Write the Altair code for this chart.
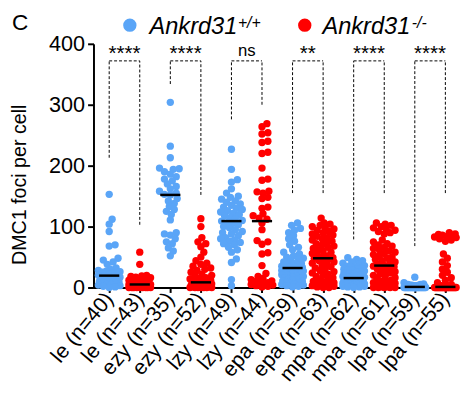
import math
import altair as alt
import pandas as pd

# ---- data ----
stages = ["le", "le", "ezy", "ezy", "lzy", "lzy", "epa", "epa", "mpa", "mpa", "lpa", "lpa"]
genotypes = ["wt", "ko"] * 6

le_wt = [153, 112, 104, 92, 70, 68, 48, 45, 42, 38, 32, 30, 28, 27, 26, 25, 24, 22, 21, 20,
         19, 18, 17, 16, 15, 14, 13, 12, 11, 10, 9, 8, 7, 6, 5, 4, 3, 2, 1, 0]
le_ko = [58, 38, 20, 19, 18, 17, 16, 15, 14, 13, 12, 11, 10, 9, 8, 7, 6, 6, 5, 5, 5, 5,
         4, 4, 3, 3, 3, 2, 2, 2, 1, 1, 1, 1, 0, 0, 0, 0, 0, 0, 0, 0, 0]
ezy_wt = [304, 232, 213, 196, 195, 194, 190, 186, 182, 178, 175, 170, 166, 162, 158, 155,
          153, 152, 146, 142, 138, 133, 128, 125, 120, 111, 90, 88, 86, 80, 75, 72, 65, 60, 52]
ezy_ko = [113, 100, 82, 75, 72, 67, 58, 50, 44, 40, 38, 35, 32, 30, 28, 25, 22, 20, 18, 16,
          15, 14, 12, 11, 10, 9, 8, 8, 7, 6, 6, 5, 5, 4, 4, 3, 3, 3, 2, 2, 2, 1, 1, 1, 1,
          0, 0, 0, 0, 0, 0, 0]
lzy_wt = [227, 194, 177, 173, 162, 155, 150, 148, 145, 142, 140, 137, 135, 132, 130, 128,
          126, 124, 122, 120, 118, 115, 113, 110, 109, 107, 105, 103, 100, 98, 95, 92, 90,
          88, 85, 82, 80, 78, 76, 74, 72, 70, 66, 62, 58, 47, 41, 13, 3]
lzy_ko = [269, 264, 254, 252, 240, 238, 222, 220, 196, 178, 176, 158, 157, 155, 148, 146,
          132, 130, 121, 118, 114, 112, 106, 95, 77, 75, 71, 57, 55, 36, 23, 18, 15, 13, 11,
          10, 8, 7, 6, 5, 4, 3, 2, 1]
epa_wt = [106, 102, 97, 94, 90, 85, 80, 76, 70, 66, 62, 58, 55, 52, 50, 48, 46, 44, 42, 40,
          39, 38, 37, 36, 35, 34, 33, 33, 32, 32, 29, 28, 27, 26, 25, 24, 23, 22, 21, 20,
          19, 18, 17, 16, 15, 14, 13, 12, 11, 10, 9, 8, 7, 6, 5, 4, 3, 2, 1]
epa_ko = [114, 106, 104, 102, 100, 98, 96, 94, 92, 90, 88, 86, 84, 82, 80, 78, 76, 74, 72,
          70, 68, 66, 64, 62, 60, 58, 56, 54, 52, 50, 49, 48, 47, 46, 44, 42, 40, 38, 36,
          34, 32, 30, 28, 26, 24, 22, 20, 18, 16, 14, 12, 10, 9, 8, 7, 6, 5, 4, 3, 2, 1, 0, 0]
mpa_wt = [49, 46, 44, 42, 40, 38, 36, 35, 34, 33, 32, 31, 30, 29, 28, 27, 26, 25, 24, 23,
          22, 21, 20, 19, 19, 18, 18, 17, 17, 16, 16, 15, 15, 14, 14, 13, 13, 12, 12, 11,
          11, 10, 10, 9, 9, 8, 8, 7, 7, 6, 6, 5, 5, 4, 4, 3, 3, 2, 2, 1, 1, 0]
mpa_ko = [106, 104, 102, 100, 98, 96, 94, 92, 90, 88, 78, 75, 72, 70, 68, 66, 64, 62, 60,
          58, 56, 54, 52, 50, 48, 46, 44, 42, 40, 38, 36, 35, 34, 33, 32, 30, 28, 26, 24,
          22, 20, 18, 16, 14, 12, 10, 9, 8, 7, 6, 5, 4, 3, 2, 1, 1, 0, 0, 0, 0, 0]
lpa_wt = [17, 8, 6, 5, 5, 4, 4, 4, 3, 3, 3, 3, 2, 2, 2, 2, 2, 2,
          1, 1, 1, 1, 1, 1, 1, 1, 1, 1, 1, 1, 1, 1, 1,
          0, 0, 0, 0, 0, 0, 0, 0, 0, 0, 0, 0, 0, 0, 0, 0, 0, 0, 0, 0, 0, 0, 0, 0, 0, 0]
lpa_ko = [90, 88, 87, 86, 85, 84, 83, 82, 80, 78, 76, 55, 48, 42, 36, 30, 25, 20, 16, 12,
          8, 5, 3, 2, 2, 2, 1, 1, 1,
          0, 0, 0, 0, 0, 0, 0, 0, 0, 0, 0, 0, 0, 0, 0, 0, 0, 0, 0, 0, 0, 0, 0, 0, 0, 0]

groups = [le_wt, le_ko, ezy_wt, ezy_ko, lzy_wt, lzy_ko, epa_wt, epa_ko, mpa_wt, mpa_ko, lpa_wt, lpa_ko]
labels = [f"{s} (n={len(g)})" for s, g in zip(stages, groups)]

# significance brackets (left group idx, right group idx, bottoms and top in data units)
br_left = [0, 2, 4, 6, 8, 10]
br_right = [1, 3, 5, 7, 9, 11]
br_lbottom = [213, 334, 276, 155, 79, 68]
br_rbottom = [103, 152, 300, 155, 155, 155]
br_top = [372, 372, 372, 372, 372, 372]
br_text = ["****", "****", "ns", "**", "****", "****"]

BLUE = "#5AA5F7"
RED = "#FF0000"
FONT = "Liberation Sans"
YTITLE = "DMC1 foci per cell"

# ---- layout constants ----
W, H = 368, 248
STEP = 31.1          # px between group centres
X0 = -0.514          # domain start (in group units)
X1 = X0 + W / STEP
PXU = H / 400.0      # px per data unit


def swarm(vals, d=5.6, maxoff=11):
    """deterministic beeswarm offsets (pixels)"""
    order = sorted(range(len(vals)), key=lambda i: vals[i])
    cands = [0] + [s * k for k in range(1, maxoff + 1) for s in (1, -1)]
    placed, offs = [], [0] * len(vals)
    for i in order:
        y = vals[i] * PXU
        best, bestd = 0, -1.0
        for c in cands:
            md = min((math.hypot(c - px, y - py) for px, py in placed), default=1e9)
            if md >= d:
                best = c
                break
            if md > bestd + 0.3:
                bestd, best = md, c
        offs[i] = best
        placed.append((best, y))
    return offs


rows = []
for gi, (g, gt) in enumerate(zip(groups, genotypes)):
    offs = swarm(g)
    for v, o in zip(g, offs):
        rows.append({"idx": gi, "geno": gt, "value": v, "pos": gi + o / STEP})
pts = pd.DataFrame(rows)

brk = pd.DataFrame({"l": br_left, "r": br_right, "lb": br_lbottom, "rb": br_rbottom,
                    "top": br_top, "txt": br_text})
brk["mid"] = (brk["l"] + brk["r"]) / 2

xs = alt.Scale(domain=[X0, X1], nice=False, zero=False)
ys = alt.Scale(domain=[0, 400], nice=False, zero=True)
label_arr = "[" + ",".join("'" + s + "'" for s in labels) + "]"

XAX = alt.Axis(values=list(range(12)), labelExpr=label_arr + "[datum.value]",
               labelAngle=-50, labelAlign="right", labelBaseline="middle",
               labelFontSize=21.5, labelFont=FONT, labelColor="black",
               labelPadding=3, tickSize=5, tickWidth=2, tickColor="black",
               domainWidth=2, domainColor="black", grid=False, labelOverlap=False,
               labelBound=False, title=None)
YAX = alt.Axis(values=[0, 100, 200, 300, 400], labelFontSize=22, labelFont=FONT,
               labelColor="black", tickSize=6, tickWidth=2, tickColor="black",
               domainWidth=2, domainColor="black", grid=False, labelPadding=3,
               title=YTITLE, titleFont=FONT, titleFontSize=20, titleFontWeight="normal",
               titleColor="black", titleX=-69, titleY=143, titleAnchor="middle",
               titleBaseline="alphabetic")


def X(f):
    return alt.X(f, scale=xs, axis=XAX, title=None)


def Y(f):
    return alt.Y(f, scale=ys, axis=YAX, title=YTITLE)


points = alt.Chart(pts).mark_circle(size=56, opacity=1).encode(
    x=X("pos:Q"), y=Y("value:Q"),
    color=alt.Color("geno:N", scale=alt.Scale(domain=["wt", "ko"], range=[BLUE, RED]), legend=None),
)

medians = alt.Chart(pts).transform_aggregate(
    med="median(value)", groupby=["idx"]
).transform_calculate(
    xa="datum.idx - 0.33", xb="datum.idx + 0.33"
).mark_rule(color="black", strokeWidth=2.5).encode(
    x=X("xa:Q"), x2="xb:Q", y=Y("med:Q"),
)

dash = [3, 2]
lv = alt.Chart(brk).mark_rule(color="black", strokeWidth=1, strokeDash=dash).encode(
    x=X("l:Q"), y=Y("lb:Q"), y2="top:Q")
rv = alt.Chart(brk).mark_rule(color="black", strokeWidth=1, strokeDash=dash).encode(
    x=X("r:Q"), y=Y("rb:Q"), y2="top:Q")
hz = alt.Chart(brk).mark_rule(color="black", strokeWidth=1, strokeDash=dash).encode(
    x=X("l:Q"), x2="r:Q", y=Y("top:Q"))
stars = alt.Chart(brk).transform_filter("datum.txt != 'ns'").mark_text(
    font=FONT, fontSize=21, dy=-1, baseline="alphabetic", color="black").encode(
    x=X("mid:Q"), y=Y("top:Q"), text="txt:N")
ns = alt.Chart(brk).transform_filter("datum.txt == 'ns'").mark_text(
    font=FONT, fontSize=17, dy=-4.5, baseline="alphabetic", color="black").encode(
    x=X("mid:Q"), y=Y("top:Q"), text="txt:N")

one = pd.DataFrame({"k": [0]})


def txt(s, x, y, size, italic=False, align="left"):
    return alt.Chart(one).mark_text(text=s, font=FONT, fontSize=size, color="black",
                                    fontStyle="italic" if italic else "normal",
                                    align=align, baseline="alphabetic").encode(
        x=alt.value(x), y=alt.value(y))


def dot(color, x, y):
    return alt.Chart(one).mark_circle(size=185, opacity=1, color=color).encode(
        x=alt.value(x), y=alt.value(y))


legend = [
    txt("C", -83, -14, 23),
    dot(BLUE, 37, -19), txt("Ankrd31", 57, -10, 24, True), txt("+/+", 147, -16, 16, True),
    dot(RED, 215, -19), txt("Ankrd31", 233, -10, 24, True), txt("-/-", 324, -16, 16, True),
]

chart = alt.layer(points, medians, lv, rv, hz, stars, ns, *legend).properties(
    width=W, height=H,
    autosize=alt.AutoSizeParams(type="none"),
    padding={"left": 87, "top": 33, "right": 6, "bottom": 110},
).configure_view(stroke=None)

chart.save("out.html", embed_options={"renderer": "svg", "actions": False})
